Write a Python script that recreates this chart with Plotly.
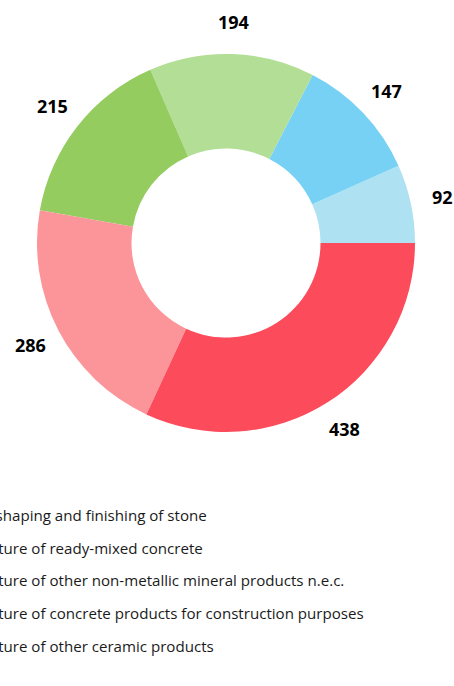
import math
import plotly.graph_objects as go

values = [92, 147, 194, 215, 286, 438]
colors = ["#AEE1F2", "#76D1F5", "#B2DE96", "#95CC60", "#FC9599", "#FC4C5C"]
slice_labels = ["s1", "s2", "s3", "s4", "s5", "s6"]

legend_labels = [
    "Cutting, shaping and finishing of stone",
    "Manufacture of ready-mixed concrete",
    "Manufacture of other non-metallic mineral products n.e.c.",
    "Manufacture of concrete products for construction purposes",
    "Manufacture of other ceramic products",
]
legend_colors = ["#FC4C5C", "#FC9599", "#95CC60", "#B2DE96", "#76D1F5"]

W, H = 454, 686
CX, CY, R = 226, 243, 189   # pie geometry in pixels
LABEL_R = 221               # radius for value labels

total = sum(values)
start_deg = 0.0  # first slice starts at 3 o'clock, counterclockwise
rotation = 90 - 360 * values[0] / total

fig = go.Figure()
fig.add_trace(go.Pie(
    values=values, labels=slice_labels, marker=dict(colors=colors),
    hole=0.5, sort=False, direction="counterclockwise", rotation=rotation,
    textinfo="none", showlegend=False, hoverinfo="value",
    domain=dict(x=[(CX - R) / W, (CX + R) / W], y=[1 - (CY + R) / H, 1 - (CY - R) / H]),
))
for i, (lab, c) in enumerate(zip(legend_labels, legend_colors)):
    fig.add_trace(go.Scatter(x=[None], y=[None], mode="markers", name=lab,
                             legendgroup=f"g{i}",
                             marker=dict(color=c, size=12, symbol="square")))

# value labels placed along each slice's mid angle
cum = 0.0
for v in values:
    mid = math.radians(start_deg + 360 * (cum + v / 2) / total)
    cum += v
    px = CX + LABEL_R * math.cos(mid)
    py = CY - LABEL_R * math.sin(mid)
    fig.add_annotation(x=px / W, y=1 - py / H, xref="paper", yref="paper",
                       text=f"<b>{v}</b>", showarrow=False,
                       xanchor="center", yanchor="middle",
                       font=dict(size=18, color="black", family="Open Sans"))

fig.update_layout(
    width=W, height=H,
    margin=dict(l=0, r=0, t=0, b=0, autoexpand=False),
    paper_bgcolor="white", plot_bgcolor="white",
    xaxis=dict(visible=False), yaxis=dict(visible=False),
    font=dict(family="Open Sans", color="#222"),
    legend=dict(x=-103 / W, xanchor="left", y=1 - 499 / H, yanchor="top",
                font=dict(size=15.1, color="#1a1a1a"), tracegroupgap=10,
                bgcolor="rgba(0,0,0,0)"),
)
fig.write_html("out.html", config={"displayModeBar": False},
               post_script="document.body.style.margin='0';document.body.style.overflow='hidden';")
